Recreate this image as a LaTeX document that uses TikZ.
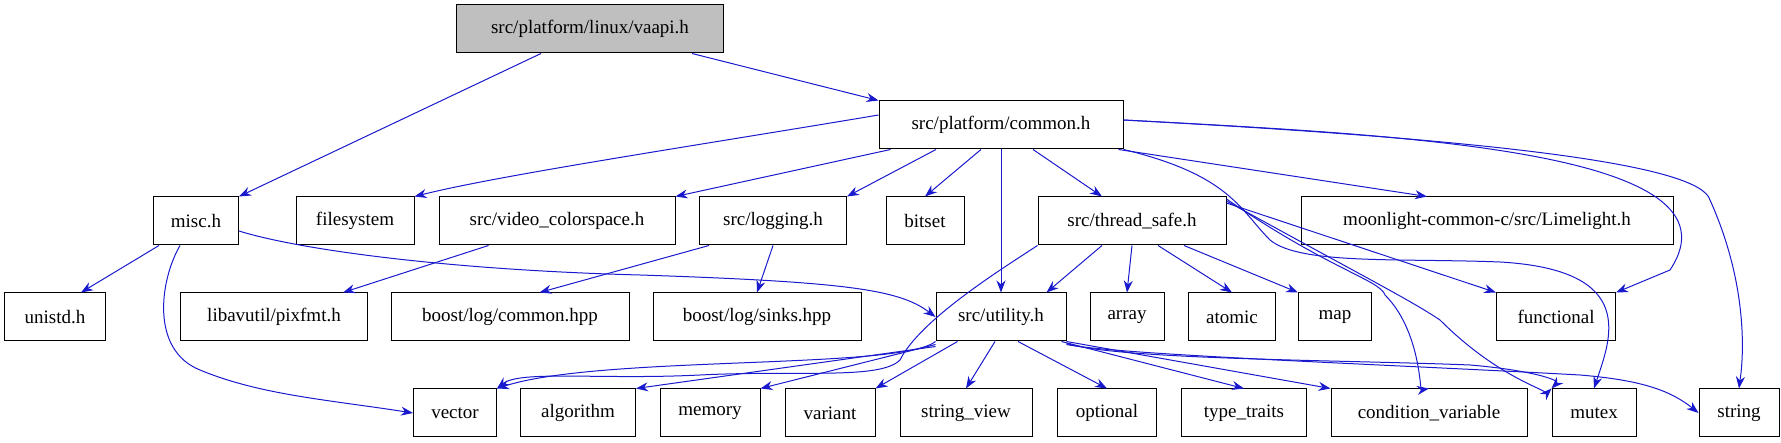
\documentclass[tikz,border=0pt]{standalone}
\usepackage{fontspec}
\setmainfont{Liberation Serif}
\usetikzlibrary{arrows.meta}
\begin{document}
\begin{tikzpicture}[x=1pt,y=-1pt,
  box/.style={draw=black,line width=1pt,fill=white,minimum height=48pt,inner sep=0pt,font=\fontsize{19}{21}\selectfont},
  e/.style={draw={rgb,255:red,25;green,25;blue,205},line width=1pt,-{Stealth[length=12pt,width=9pt]}}]
\useasboundingbox (0,0) rectangle (1781,443);
\def\B(#1,#2,#3,#4,#5){\node[box,minimum width=#4] (#1) at (#2,#3) {#5};}
\node[box,minimum width=267,fill={rgb,255:red,191;green,191;blue,191}] (vaapi) at (590,29) {src/platform/linux/vaapi.h};
\B(common,1001,125,244,src/platform/common.h)
\B(misc,196,221,85,misc.h)
\B(fs,355,221,118,filesystem)
\B(vc,557,221,236,src/video\_colorspace.h)
\B(log,773,221,147,src/logging.h)
\B(bitset,925,221,78,bitset)
\B(ts,1132,221,188,src/thread\_safe.h)
\B(ml,1487,221,372,moonlight-common-c/src/Limelight.h)
\B(unistd,55,317,101,unistd.h)
\B(av,274,317,187,libavutil/pixfmt.h)
\B(bc,510,317,238,boost/log/common.hpp)
\B(bs,757,317,208,boost/log/sinks.hpp)
\B(ut,1001,317,130,src/utility.h)
\B(array,1127,317,74,array)
\B(atomic,1232,317,87,atomic)
\B(map,1335,317,73,map)
\B(func,1556,317,119,functional)
\B(vector,455,413,83,vector)
\B(alg,578,413,115,algorithm)
\B(mem,710,413,100,memory)
\B(var,830,413,90,variant)
\B(sv,966,413,132,string\_view)
\B(opt,1107,413,99,optional)
\B(tt,1244,413,125,type\_traits)
\B(cv,1429,413,196,condition\_variable)
\B(mutex,1594,413,84,mutex)
\B(str,1739,413,80,string)
\coordinate (vaS1) at ([xshift=85]vaapi.south west);
\coordinate (vaS2) at ([xshift=-32]vaapi.south east);
\draw[e] (vaS1) -- (misc.north east);
\draw[e] (vaS2) -- (common.north west);
\draw[e] ([yshift=10]common.west) .. controls (700,145) and (500,175) .. (fs.north east);
\draw[e] ([xshift=12]common.south west) -- (vc.north east);
\draw[e] ([xshift=-65]common.south) -- (log.north east);
\draw[e] ([xshift=-20]common.south) -- (bitset.north);
\draw[e] (common.south) -- (ut.north);
\draw[e] ([xshift=32]common.south) -- ([xshift=-30]ts.north);
\draw[e] ([xshift=-5]common.south east) -- ([xshift=-60]ml.north);
\draw[e] ([yshift=5]common.east) .. controls (1400,135) and (1750,150) .. (1670,270) -- (func.north east);
\draw[e] ([yshift=5]common.east) .. controls (1500,140) and (1700,165) .. (1710,200) .. controls (1755,300) and (1740,380) .. (str.north);
\draw[e] (common.south east) .. controls (1230,175) and (1240,210) .. (1270,240) .. controls (1300,265) and (1400,258) .. (1500,262) .. controls (1640,270) and (1610,340) .. (mutex.north);
\draw[e] ([xshift=6]misc.south west) -- ([xshift=-25]unistd.north east);
\draw[e] ([xshift=-16]misc.south) .. controls (160,280) and (150,350) .. (200,370) .. controls (260,395) and (330,400) .. (vector.west);
\draw[e] ([yshift=-10]misc.east) .. controls (300,250) and (450,270) .. (640,275) .. controls (850,282) and (900,290) .. (ut.west);
\draw[e] ([xshift=50]vc.south west) -- ([xshift=-25]av.north east);
\draw[e] ([xshift=10]log.south west) -- ([xshift=-90]bc.north east);
\draw[e] (log.south) -- (bs.north);
\draw[e] ([xshift=-30]ts.south) -- ([xshift=-20]ut.north east);
\draw[e] (ts.south) -- (array.north);
\draw[e] ([xshift=26]ts.south) -- (atomic.north);
\draw[e] ([xshift=52]ts.south) -- (map.north west);
\draw[e] ([yshift=18]ts.east) -- (func.north west);
\draw[e] ([yshift=22]ts.east) .. controls (1330,270) and (1380,280) .. (1385,295) .. controls (1420,330) and (1420,390) .. (cv.north);
\draw[e] ([yshift=20]ts.east) .. controls (1370,280) and (1410,300) .. (1440,320) .. controls (1500,380) and (1550,390) .. (mutex.north west);
\draw[e] (ts.south west) .. controls (1000,270) and (920,320) .. (900,360) .. controls (880,380) and (800,370) .. (700,375) .. controls (600,380) and (520,370) .. (vector.north east);
\draw[e] (ut.south west) .. controls (900,370) and (600,355) .. (vector.north east);
\draw[e] ([yshift=-5]ut.south west) -- (alg.north east);
\draw[e] ([yshift=-3]ut.south west) -- (mem.north east);
\draw[e] ([xshift=22]ut.south west) -- (var.north east);
\draw[e] ([xshift=-6]ut.south) -- (sv.north);
\draw[e] ([xshift=17]ut.south) -- (opt.north);
\draw[e] ([xshift=-5]ut.south east) -- (tt.north);
\draw[e] (ut.south east) -- (cv.north west);
\draw[e] ([yshift=-2]ut.south east) .. controls (1120,360) and (1350,360) .. (1470,365) .. controls (1530,370) and (1560,380) .. (mutex.north west);
\draw[e] ([yshift=-3]ut.south east) .. controls (1120,355) and (1400,365) .. (1580,375) .. controls (1640,380) and (1670,390) .. (str.west);
\end{tikzpicture}
\end{document}
